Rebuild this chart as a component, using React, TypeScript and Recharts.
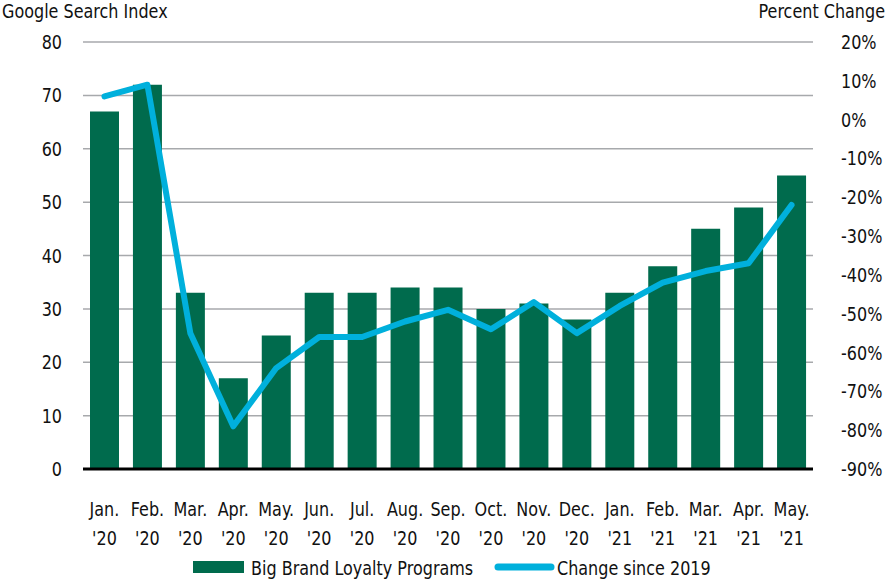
import { ComposedChart, Bar, Line, XAxis, YAxis, CartesianGrid, Legend } from "recharts";

const months = ["Jan.", "Feb.", "Mar.", "Apr.", "May.", "Jun.", "Jul.", "Aug.", "Sep.", "Oct.", "Nov.", "Dec.", "Jan.", "Feb.", "Mar.", "Apr.", "May."];
const years = ["'20", "'20", "'20", "'20", "'20", "'20", "'20", "'20", "'20", "'20", "'20", "'20", "'21", "'21", "'21", "'21", "'21"];
const searchIndex = [67, 72, 33, 17, 25, 33, 33, 34, 34, 30, 31, 28, 33, 38, 45, 49, 55];
const pctChange = [6, 9, -55, -79, -64, -56, -56, -52, -49, -54, -47, -55, -48, -42, -39, -37, -22];
const leftTicks = [0, 10, 20, 30, 40, 50, 60, 70, 80];
const rightTicks = [-90, -80, -70, -60, -50, -40, -30, -20, -10, 0, 10, 20];

const data = months.map((m, i) => ({
  name: m + " " + years[i],
  month: m,
  year: years[i],
  brand: searchIndex[i],
  change: pctChange[i],
}));

// no condensed font available, so squeeze DejaVu horizontally
const FONT = "'DejaVu Sans', sans-serif";
const SQ = 0.8;
const FS = 20;
const GREEN = "#006B4D";
const BLUE = "#00B0DC";
const INK = "#111";

function Squeezed({ x, y, anchor, children }: any) {
  return (
    <g transform={`translate(${x},${y}) scale(${SQ},1)`}>
      <text x={0} y={0} textAnchor={anchor} fontFamily={FONT} fontSize={FS} fill={INK}>
        {children}
      </text>
    </g>
  );
}

function MonthTick({ x, y, index }: any) {
  const d = data[index];
  if (!d) return null;
  return (
    <g>
      <Squeezed x={x} y={y + 39} anchor="middle">{d.month}</Squeezed>
      <Squeezed x={x} y={y + 68} anchor="middle">{d.year}</Squeezed>
    </g>
  );
}

function LeftTick({ x, y, payload }: any) {
  return <Squeezed x={x} y={y + 7} anchor="end">{payload.value}</Squeezed>;
}

function RightTick({ x, y, payload }: any) {
  return <Squeezed x={x} y={y + 7} anchor="start">{`${payload.value}%`}</Squeezed>;
}

function CustomLegend() {
  return (
    <svg width={887} height={30} style={{ display: "block" }}>
      <rect x={193} y={9} width={51} height={12} fill={GREEN} />
      <Squeezed x={251} y={23} anchor="start">Big Brand Loyalty Programs</Squeezed>
      <line x1={498} y1={15} x2={551} y2={15} stroke={BLUE} strokeWidth={7} strokeLinecap="round" />
      <Squeezed x={557} y={23} anchor="start">Change since 2019</Squeezed>
    </svg>
  );
}

function App() {
  return (
    <div style={{ position: "absolute", left: 0, top: 0, width: 887, height: 582, background: "#fff" }}>
      <svg width={887} height={24} style={{ position: "absolute", left: 0, top: 0 }}>
        <Squeezed x={2} y={18} anchor="start">Google Search Index</Squeezed>
        <Squeezed x={885} y={18} anchor="end">Percent Change</Squeezed>
      </svg>
      <ComposedChart
        width={887}
        height={582}
        data={data}
        margin={{ top: 42, right: 0, left: 0, bottom: 0 }}
      >
        <CartesianGrid yAxisId="left" vertical={false} stroke="#A7A9AC" strokeWidth={1.5} />
        <XAxis
          dataKey="name"
          interval={0}
          tickLine={false}
          axisLine={{ stroke: "#000", strokeWidth: 3 }}
          height={83}
          tick={<MonthTick />}
        />
        <YAxis
          yAxisId="left"
          orientation="left"
          width={83}
          domain={[0, 80]}
          ticks={leftTicks}
          axisLine={false}
          tickLine={false}
          tickMargin={15}
          tick={<LeftTick />}
        />
        <YAxis
          yAxisId="right"
          orientation="right"
          width={74}
          domain={[-90, 20]}
          ticks={rightTicks}
          axisLine={false}
          tickLine={false}
          tickMargin={22}
          tick={<RightTick />}
        />
        <Bar yAxisId="left" dataKey="brand" fill={GREEN} barSize={29} isAnimationActive={false} />
        <Line
          yAxisId="right"
          dataKey="change"
          stroke={BLUE}
          strokeWidth={6}
          dot={false}
          type="linear"
          strokeLinejoin="round"
          strokeLinecap="round"
          isAnimationActive={false}
        />
        <Legend verticalAlign="bottom" height={30} content={<CustomLegend />} wrapperStyle={{ left: 0, width: 887 }} />
      </ComposedChart>
    </div>
  );
}

export default App;
